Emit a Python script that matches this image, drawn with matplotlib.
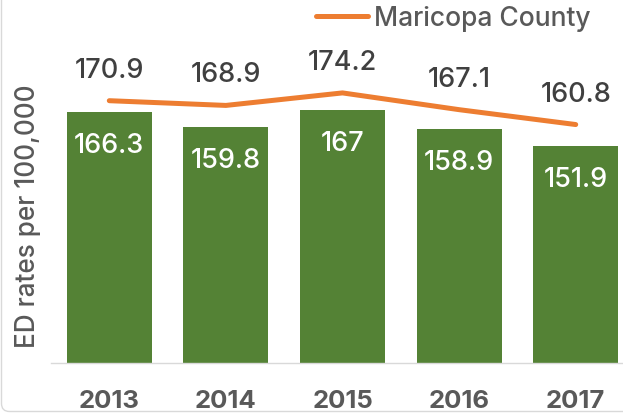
import matplotlib
matplotlib.use('Agg')
import matplotlib.pyplot as plt
from matplotlib.patches import FancyBboxPatch
from matplotlib.transforms import IdentityTransform

years = ['2013', '2014', '2015', '2016', '2017']
bar_values = [166.3, 159.8, 167.0, 158.9, 151.9]
bar_labels = ['166.3', '159.8', '167', '158.9', '151.9']
line_values = [170.9, 168.9, 174.2, 167.1, 160.8]
line_labels = ['170.9', '168.9', '174.2', '167.1', '160.8']
series_name = 'Maricopa County'
y_label = 'ED rates per 100,000'

FONT = 'Inter'
plt.rcParams['font.family'] = [FONT, 'DejaVu Sans']

W, H = 623, 414
fig = plt.figure(figsize=(W / 100, H / 100), dpi=100)

# outer chart frame (rounded, light grey)
frame = FancyBboxPatch((1.5, 1.5), 800, 600, boxstyle='round,pad=0,rounding_size=8',
                       transform=IdentityTransform(), facecolor='none',
                       edgecolor='#D9D9D9', lw=1.0)
fig.add_artist(frame)

base_px = 363.5
top_px = 33.0
ax = fig.add_axes([51 / W, (H - base_px) / H, 583 / W, (base_px - top_px) / H])
x = list(range(len(years)))
ax.bar(x, bar_values, width=0.73, color='#548235', zorder=2)
line, = ax.plot(x, line_values, color='#ED7D31', lw=3.6, solid_capstyle='round',
                zorder=3, label=series_name)
ax.set_xlim(-0.5, 4.5)
ax.set_ylim(60, 200)

for s in ['top', 'left', 'right']:
    ax.spines[s].set_visible(False)
ax.spines['bottom'].set_color('#D9D9D9')
ax.spines['bottom'].set_linewidth(1.0)
ax.set_yticks([])
ax.set_xticks(x)
ax.set_xticklabels(years, fontsize=18.5, fontweight='bold', color='#595959')
ax.tick_params(axis='x', length=0, pad=31.8)
for lbl in ax.get_xticklabels():
    lbl.set_va('baseline')

for xi, v, t in zip(x, bar_values, bar_labels):
    ax.annotate(t, xy=(xi, v), xytext=(0, -28.8), textcoords='offset points',
                ha='center', va='baseline', color='white', fontsize=19.5,
                fontweight='medium', zorder=4)
for xi, v, t in zip(x, line_values, line_labels):
    ax.annotate(t, xy=(xi, v), xytext=(0, 17.3), textcoords='offset points',
                ha='center', va='baseline', color='#404040', fontsize=19.5,
                fontweight='medium', zorder=4)

fig.text(35 / W, (H - 216) / H, y_label, rotation=90, rotation_mode='anchor',
         ha='center', va='baseline', fontsize=18.8, fontweight='medium', color='#595959')

leg = ax.legend(handles=[line], loc='center left', bbox_to_anchor=(315.7 / W, (H - 19) / H),
                bbox_transform=fig.transFigure, frameon=False, handlelength=2.0,
                handletextpad=0.2, borderpad=0, borderaxespad=0,
                prop={'size': 19, 'weight': 'medium'})
for t in leg.get_texts():
    t.set_color('#595959')

fig.savefig('out.png', dpi=100)
